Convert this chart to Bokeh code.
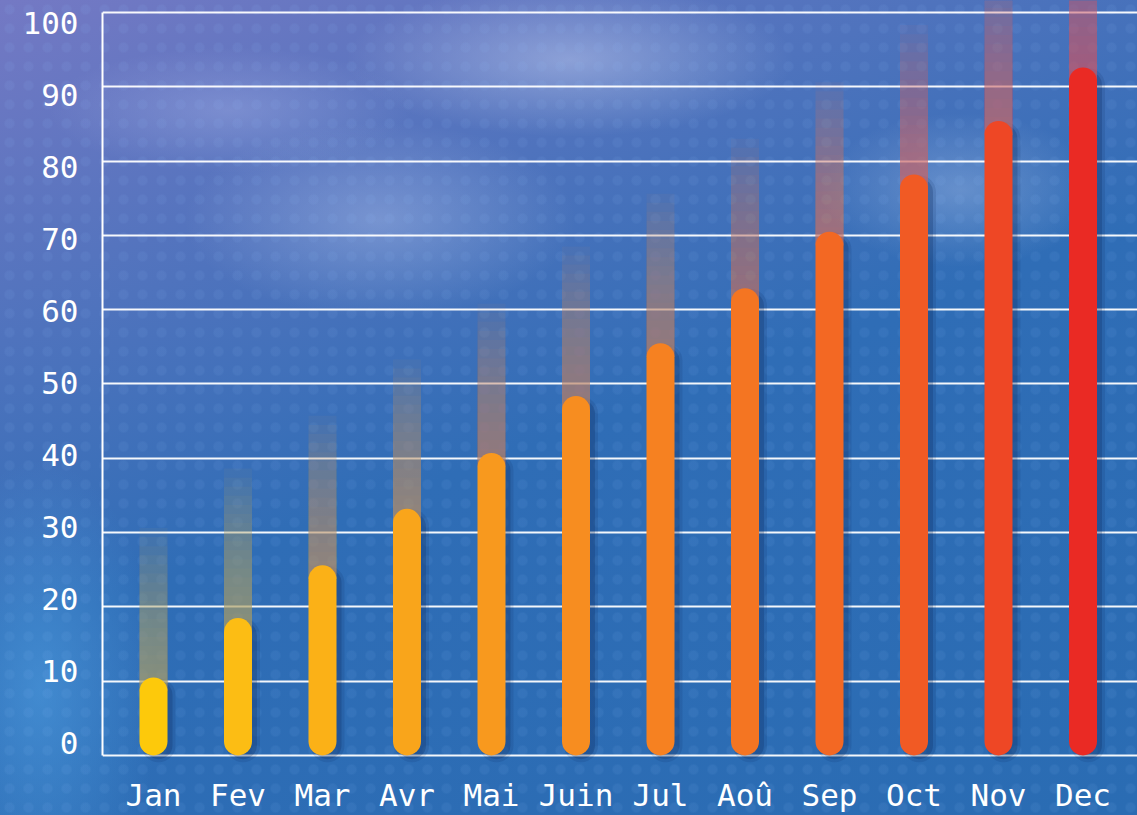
from bokeh.plotting import figure
from bokeh.models import Range1d, LinearAxis, FixedTicker, ColumnDataSource
from bokeh.embed import file_html
from bokeh.resources import INLINE

# ---- data ----
months = ["Jan", "Fev", "Mar", "Avr", "Mai", "Juin", "Jul", "Aoû", "Sep", "Oct", "Nov", "Dec"]
values = [10.5, 18.5, 25.6, 33.2, 40.7, 48.4, 55.5, 62.9, 70.5, 78.2, 85.4, 92.6]
y_ticks = [0, 10, 20, 30, 40, 50, 60, 70, 80, 90, 100]
bar_colors = ["#fdc90b", "#fcbd14", "#fbb117", "#f9a51b", "#f8991e", "#f78d20",
              "#f68121", "#f47522", "#f36823", "#f15a24", "#ee4725", "#ea2a24"]
glow_colors = ["#b4a868", "#b8a26a", "#bc9c6a", "#c0956a", "#c48e6a", "#c6876a",
               "#c8806a", "#ca796a", "#cc726a", "#cd6a68", "#ce6266", "#cf5862"]

# ---- layout constants ----
W, H = 1137, 815
FONT = "DejaVu Sans Mono"
PX_Y = 7.42           # pixels per unit (y)
PX_X = 84.5           # pixels per category
BAR_W = 28
F_LEFT = 102
F_BOTTOM = 769        # expected frame bottom (canvas px)
X0 = 153              # centre of first bar (px)
Y0 = 754              # baseline (px)
r = (BAR_W / 2) / PX_Y

xs = list(range(len(months)))

bars = ColumnDataSource(dict(
    x=xs,
    y0=[r for _ in values],
    y1=[v - r for v in values],
    color=bar_colors,
    sx=[x + 5 / PX_X for x in xs],
    sy0=[r - 0.5 for _ in values],
    sy1=[v - r - 0.5 for v in values],
))

# glow above each bar: overlapping translucent layers of growing height
N, GLOW = 18, 22.0
layer_alpha = 1 - (1 - 0.72) ** (1 / N)
gx, gy0, gy1, gc = [], [], [], []
for x, v, c in zip(xs, values, glow_colors):
    for k in range(N):
        gx.append(x)
        gy0.append(v - r)
        gy1.append(v - r + (k + 1) * GLOW / N)
        gc.append(c)
glow = ColumnDataSource(dict(x=gx, y0=gy0, y1=gy1, color=gc))

x_start = -(X0 - F_LEFT) / PX_X
x_end = (W - X0) / PX_X
y_end = 100 + 12 / PX_Y
y_start = -(F_BOTTOM - Y0) / PX_Y

p = figure(width=W, height=H, x_range=Range1d(x_start, x_end), y_range=Range1d(y_start, y_end),
           output_backend="svg", toolbar_location=None, y_axis_location=None,
           min_border_left=F_LEFT, min_border_right=0, min_border_top=0, min_border_bottom=0)

p.background_fill_alpha = 0
p.border_fill_alpha = 0
p.outline_line_color = None
p.styles = {
    "background": (
        "radial-gradient(circle, rgba(150,195,255,0.08) 0px, rgba(150,195,255,0.08) 4px, rgba(150,195,255,0) 6px) 0 0 / 19px 19px repeat,"
        "radial-gradient(ellipse 320px 110px at 570px 60px, rgba(225,232,255,0.38), rgba(225,232,255,0) 70%),"
        "radial-gradient(ellipse 280px 140px at 380px 220px, rgba(215,225,255,0.30), rgba(215,225,255,0) 70%),"
        "radial-gradient(ellipse 200px 110px at 960px 190px, rgba(215,228,255,0.28), rgba(215,228,255,0) 70%),"
        "radial-gradient(ellipse 260px 90px at 230px 110px, rgba(205,212,255,0.25), rgba(205,212,255,0) 70%),"
        "radial-gradient(ellipse 170px 330px at 40px 690px, rgba(90,175,240,0.45), rgba(90,175,240,0) 70%),"
        "linear-gradient(160deg, #7479c4 0%, #4f73bd 28%, #2f6db6 52%, #2a6cb3 100%)"
    )
}

# grid
p.xgrid.visible = False
p.ygrid.ticker = FixedTicker(ticks=y_ticks)
p.ygrid.grid_line_color = "white"
p.ygrid.grid_line_width = 2
p.ygrid.grid_line_alpha = 0.95

# shadow, glow, bars
p.segment(x0="sx", y0="sy0", x1="sx", y1="sy1", source=bars, line_width=34,
          line_color="#0b2456", line_alpha=0.12, line_cap="round")
p.segment(x0="sx", y0="sy0", x1="sx", y1="sy1", source=bars, line_width=28,
          line_color="#0b2456", line_alpha=0.22, line_cap="round")
p.segment(x0="x", y0="y0", x1="x", y1="y1", source=glow, line_width=BAR_W,
          line_color="color", line_alpha=layer_alpha, line_cap="butt")
p.segment(x0="x", y0="y0", x1="x", y1="y1", source=bars, line_width=BAR_W,
          line_color="color", line_cap="round")

# vertical axis line (0..100)
ax_line = LinearAxis(bounds=(0, 100), ticker=FixedTicker(ticks=[]))
ax_line.axis_line_color = "white"
ax_line.axis_line_width = 2
ax_line.major_tick_line_color = None
ax_line.minor_tick_line_color = None
ax_line.major_label_text_font_size = "0px"
p.add_layout(ax_line, "left")

# y tick labels on their own scale (0 at 742px, 100 at 22px)
lab_scale = (742 - 22) / 100
p.extra_y_ranges = {"lab": Range1d(-(F_BOTTOM - 742) / lab_scale, 100 + 22 / lab_scale)}
ax_lab = LinearAxis(y_range_name="lab", ticker=FixedTicker(ticks=y_ticks))
ax_lab.axis_line_color = None
ax_lab.major_tick_line_color = None
ax_lab.minor_tick_line_color = None
ax_lab.major_label_standoff = 18
ax_lab.major_label_text_color = "white"
ax_lab.major_label_text_font = FONT
ax_lab.major_label_text_font_size = "31px"
p.add_layout(ax_lab, "left")

# x axis
p.xaxis.ticker = FixedTicker(ticks=xs)
p.xaxis.major_label_overrides = {x: m for x, m in zip(xs, months)}
p.xaxis.axis_line_color = None
p.xaxis.major_tick_line_color = None
p.xaxis.minor_tick_line_color = None
p.xaxis.major_label_standoff = 0
p.xaxis.major_label_text_color = "white"
p.xaxis.major_label_text_font = FONT
p.xaxis.major_label_text_font_size = "31px"

open("out.html", "w").write(file_html(p, INLINE))
